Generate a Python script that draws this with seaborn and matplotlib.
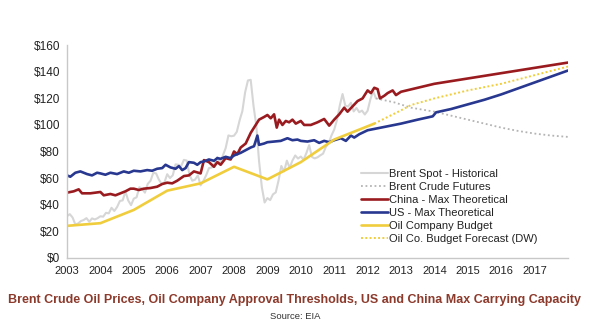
import matplotlib
matplotlib.use("Agg")
import matplotlib.pyplot as plt
import seaborn as sns
import numpy as np
import pandas as pd

# ---------------- data ----------------
brent_start = 2003.0
brent_spot = [31.3, 32.8, 30.3, 25.0, 25.8, 27.6, 28.4, 29.8, 27.1, 29.6, 28.8, 29.8,
              31.2, 30.9, 33.8, 33.4, 37.6, 35.2, 38.2, 42.7, 43.2, 49.8, 43.1, 39.6,
              44.5, 45.5, 53.1, 51.9, 49.0, 55.6, 57.9, 63.9, 63.5, 58.9, 55.5, 56.7,
              62.9, 60.0, 62.1, 70.3, 70.0, 68.9, 73.7, 73.2, 62.5, 58.0, 58.8, 62.0,
              54.5, 57.8, 62.1, 67.5, 67.9, 70.6, 75.8, 71.2, 77.0, 82.5, 92.1, 91.5,
              91.9, 94.8, 103.3, 110.4, 124.6, 133.5, 134.0, 114.6, 99.6, 72.8, 53.2, 41.6,
              44.9, 43.4, 47.7, 49.2, 58.1, 69.1, 65.0, 73.1, 67.7, 73.2, 77.0, 74.7,
              76.2, 73.8, 78.8, 84.8, 75.9, 74.8, 75.6, 77.1, 78.4, 83.5, 86.1, 92.0,
              96.5, 103.7, 114.6, 123.3, 114.5, 113.9, 116.7, 110.2, 112.8, 109.6, 110.8, 107.9,
              110.7, 119.3, 125.5, 120.0]

futures_years = [2012.25, 2012.8, 2013.3, 2014.0, 2014.5, 2015.0, 2015.5, 2016.0, 2016.5, 2017.0, 2017.5, 2018.0]
futures_vals = [120, 117, 113, 110, 107, 104, 101, 98, 95.5, 93.5, 92, 91]

china_years = [2003.0, 2003.2, 2003.35, 2003.45, 2003.7, 2004.0, 2004.1, 2004.3, 2004.45, 2004.6,
               2004.75, 2004.9, 2005.0, 2005.15, 2005.3, 2005.5, 2005.7, 2005.85, 2006.0, 2006.15,
               2006.3, 2006.5, 2006.65, 2006.8, 2007.0, 2007.1, 2007.25, 2007.4, 2007.5, 2007.6,
               2007.75, 2007.9, 2008.0, 2008.1, 2008.2, 2008.35, 2008.5, 2008.6, 2008.75, 2008.9,
               2009.0, 2009.1, 2009.2, 2009.28, 2009.35, 2009.45, 2009.55, 2009.65, 2009.75, 2009.85,
               2010.0, 2010.1, 2010.3, 2010.5, 2010.7, 2010.85, 2011.0, 2011.15, 2011.3, 2011.4,
               2011.55, 2011.7, 2011.85, 2012.0, 2012.1, 2012.2, 2012.3, 2012.37, 2012.5, 2012.6,
               2012.75, 2012.85, 2013.0, 2014.0, 2015.0, 2016.0, 2017.0, 2018.0]
china_vals = [49, 50, 51.5, 48.5, 48.5, 49.5, 47, 48, 47, 48.5,
              50, 52, 52, 51, 52, 52.5, 53.5, 55.5, 56.5, 56,
              58, 61.5, 62, 65, 63.5, 73.5, 72, 68.5, 72, 70,
              75, 74, 80, 78, 83, 86, 94, 98, 104, 106,
              107.5, 105, 108, 98, 104, 100, 103, 102, 104, 101,
              103, 100, 100, 102, 104.5, 99.5, 104, 108, 113, 110,
              114, 118, 120, 126, 124, 128, 127, 120, 122, 124,
              126, 122.5, 125, 131, 135, 139, 143, 147]

us_years = [2003.0, 2003.1, 2003.25, 2003.4, 2003.6, 2003.75, 2003.9, 2004.0, 2004.15, 2004.3,
            2004.5, 2004.7, 2004.85, 2005.0, 2005.2, 2005.4, 2005.55, 2005.7, 2005.85, 2005.95,
            2006.1, 2006.25, 2006.35, 2006.45, 2006.55, 2006.65, 2006.8, 2006.9, 2007.0, 2007.1,
            2007.25, 2007.4, 2007.5, 2007.6, 2007.75, 2007.9, 2008.0, 2008.2, 2008.35, 2008.5,
            2008.6, 2008.7, 2008.75, 2008.9, 2009.0, 2009.2, 2009.4, 2009.6, 2009.75, 2009.9,
            2010.0, 2010.2, 2010.4, 2010.55, 2010.7, 2010.85, 2011.0, 2011.2, 2011.35, 2011.5,
            2011.6, 2011.75, 2012.0, 2012.5, 2013.0, 2013.5, 2013.95, 2014.05, 2014.5, 2015.0,
            2015.5, 2016.0, 2016.5, 2017.0, 2017.5, 2018.0]
us_vals = [62, 61, 64, 65, 63, 62, 64, 63.5, 62.5, 64,
           63, 65, 64, 65.5, 65, 66, 65.5, 67, 67.5, 70,
           68, 67, 69, 66, 67.5, 72, 71.5, 70, 72, 72.5,
           74, 73, 75, 74.5, 76, 75, 77, 79, 81, 83,
           84, 92, 85, 86, 87, 87.5, 88, 90, 88.5, 89,
           88, 87.5, 88.5, 86.5, 88, 87, 88.5, 90, 88, 92,
           90.5, 93, 96, 98.5, 101, 104, 106.5, 109.5, 112, 115.5,
           119, 123, 127.5, 132, 136.5, 141]

budget_years = [2003.0, 2004.0, 2005.0, 2006.0, 2007.0, 2008.0, 2009.0, 2010.0, 2011.0, 2012.2]
budget_vals = [24, 26, 36, 50.5, 56, 68.5, 59, 72, 89, 101]

forecast_years = [2012.2, 2013.0, 2013.3, 2014.0, 2015.0, 2016.0, 2017.0, 2018.0]
forecast_vals = [101, 111, 115, 120, 126, 131, 137.5, 144]

year_ticks = list(range(2003, 2018))
y_ticks = [0, 20, 40, 60, 80, 100, 120, 140, 160]
y_labels = ["$" + str(v) for v in y_ticks]

labels = ["Brent Spot - Historical", "Brent Crude Futures", "China - Max Theoretical",
          "US - Max Theoretical", "Oil Company Budget", "Oil Co. Budget Forecast (DW)"]
title = "Brent Crude Oil Prices, Oil Company Approval Thresholds, US and China Max Carrying Capacity"
source = "Source: EIA"

# ---------------- plot ----------------
sns.set_style("white")
plt.rcParams['font.family'] = ['Liberation Sans', 'DejaVu Sans']

fig = plt.figure(figsize=(5.9, 3.33), dpi=100)
ax = fig.add_axes([67 / 590, 1 - 257.7 / 333, (568 - 67) / 590, (257.7 - 45.3) / 333])

spot_x = [brent_start + i / 12 for i in range(len(brent_spot))]

c_spot = "#d6d6d6"
c_fut = "#b4b4b4"
c_china = "#9a1b1f"
c_us = "#28378f"
c_yel = "#f0cd3c"

sns.lineplot(x=spot_x, y=brent_spot, ax=ax, color=c_spot, linewidth=1.5, label=labels[0])
sns.lineplot(x=futures_years, y=futures_vals, ax=ax, color=c_fut, linewidth=1.3,
             linestyle=(0, (1, 1.5)), label=labels[1])
sns.lineplot(x=china_years, y=china_vals, ax=ax, color=c_china, linewidth=1.9, label=labels[2])
sns.lineplot(x=us_years, y=us_vals, ax=ax, color=c_us, linewidth=1.9, label=labels[3])
sns.lineplot(x=budget_years, y=budget_vals, ax=ax, color=c_yel, linewidth=1.9, label=labels[4])
sns.lineplot(x=forecast_years, y=forecast_vals, ax=ax, color=c_yel, linewidth=1.4,
             linestyle=(0, (1, 1.2)), label=labels[5])

ax.set_xlim(2003, 2018)
ax.set_ylim(0, 160)
ax.set_xticks(year_ticks)
ax.set_xticklabels([str(y) for y in year_ticks])
ax.set_yticks(y_ticks)
ax.set_yticklabels(y_labels)
ax.tick_params(axis='both', colors='#999999', labelcolor='#222222',
               length=3, width=0.8, direction='out', pad=2)
ax.tick_params(axis='y', labelsize=8.5)
ax.tick_params(axis='x', labelsize=8, pad=3)
for s in ['top', 'right']:
    ax.spines[s].set_visible(False)
for s in ['left', 'bottom']:
    ax.spines[s].set_color('#c8c8c8')
    ax.spines[s].set_linewidth(1.0)
ax.set_xlabel("")
ax.set_ylabel("")

leg = ax.legend(loc='lower left', bbox_to_anchor=(0.587, 0.065), frameon=False,
                fontsize=8, handlelength=2.4, handletextpad=0.1, labelspacing=0.27,
                borderpad=0, borderaxespad=0)
for t in leg.get_texts():
    t.set_color('#222222')

fig.text(0.5, 1 - 300 / 333, title, ha='center', va='center', fontsize=9,
         fontweight='bold', color='#8c3a2c')
fig.text(0.5, 1 - 316.5 / 333, source, ha='center', va='center', fontsize=6.8, color='#333333')

fig.savefig("out.png", dpi=100)
